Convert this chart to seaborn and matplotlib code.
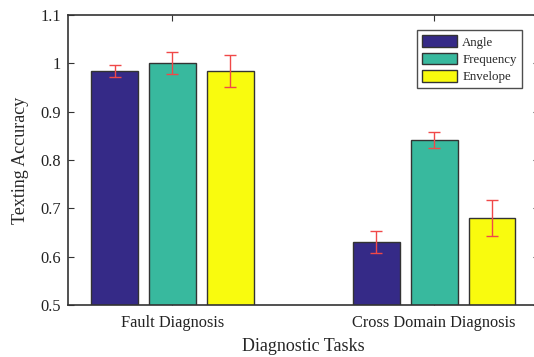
import matplotlib
matplotlib.use("Agg")
import matplotlib.pyplot as plt
from matplotlib.container import BarContainer
import seaborn as sns
import pandas as pd
import numpy as np

tasks = ["Fault Diagnosis", "Cross Domain Diagnosis"]
features = ["Angle", "Frequency", "Envelope"]
acc_angle = [0.984, 0.630]
acc_freq = [1.000, 0.841]
acc_env = [0.984, 0.679]
err_lo_angle = [0.013, 0.022]
err_hi_angle = [0.013, 0.023]
err_lo_freq = [0.022, 0.016]
err_hi_freq = [0.024, 0.016]
err_lo_env = [0.032, 0.037]
err_hi_env = [0.033, 0.038]
colors = ["#352A87", "#38B99E", "#F9FB0E"]

rows = []
for f, vals in zip(features, [acc_angle, acc_freq, acc_env]):
    for t, v in zip(tasks, vals):
        rows.append({"task": t, "feature": f, "acc": v})
df = pd.DataFrame(rows)

sns.set_style("ticks")
plt.rcParams["font.family"] = ["Liberation Serif", "DejaVu Serif"]

fig = plt.figure(figsize=(5.34, 3.57), dpi=100)
ax = fig.add_axes([0.127, 0.1457, 0.882, 0.8123])

sns.barplot(data=df, x="task", y="acc", hue="feature", order=tasks,
            hue_order=features, palette=colors, width=0.663, gap=0.19,
            edgecolor="#333333", linewidth=1.0, errorbar=None, ax=ax,
            saturation=1)

lo = [err_lo_angle, err_lo_freq, err_lo_env]
hi = [err_hi_angle, err_hi_freq, err_hi_env]
bar_conts = [c for c in ax.containers if isinstance(c, BarContainer)]
for i, cont in enumerate(bar_conts):
    xs = [p.get_x() + p.get_width() / 2 for p in cont.patches]
    ys = [p.get_height() + p.get_y() for p in cont.patches]
    ax.errorbar(xs, ys, yerr=[lo[i], hi[i]], fmt="none", ecolor="#f04848",
                elinewidth=1.0, capsize=4.5, capthick=1.0, zorder=5)

ax.set_ylim(0.5, 1.1)
ax.set_xlim(-0.4, 1.4)
ax.set_yticks([0.5, 0.6, 0.7, 0.8, 0.9, 1.0, 1.1])
ax.set_yticklabels(["0.5", "0.6", "0.7", "0.8", "0.9", "1", "1.1"])
ax.set_xlabel("Diagnostic Tasks", fontsize=13, labelpad=5)
ax.set_ylabel("Texting Accuracy", fontsize=13, labelpad=8)
ax.tick_params(direction="in", top=True, right=True, labelsize=11.8,
               length=4, width=0.8, color="#333333", labelcolor="#222222")
ax.tick_params(axis="x", pad=7)
ax.tick_params(axis="y", pad=5)
for s in ax.spines.values():
    s.set_visible(True)
    s.set_linewidth(1.2)
    s.set_color("#333333")

leg = ax.legend(loc="upper right", bbox_to_anchor=(0.964, 0.948),
                frameon=True, fancybox=False, edgecolor="#222222",
                fontsize=9.3, handlelength=2.7, handleheight=1.05,
                borderpad=0.4, labelspacing=0.3, handletextpad=0.4,
                borderaxespad=0)
leg.get_frame().set_linewidth(1.0)

fig.savefig("out.png", dpi=100)
